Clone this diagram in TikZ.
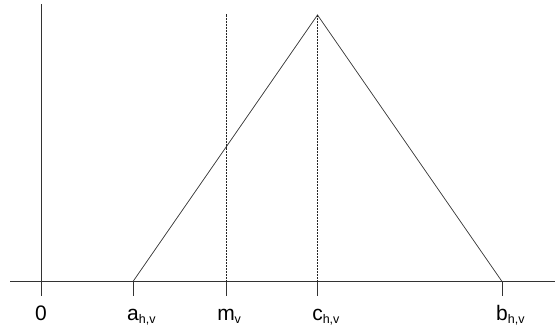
\documentclass[tikz,border=0pt]{standalone}
\usepackage{fontspec}
\setmainfont{Liberation Sans}
\newcommand{\lsub}[1]{\rlap{\raisebox{-3pt}{\fontsize{12.5}{14}\selectfont#1}}}

\begin{document}
\begin{tikzpicture}[x=1pt, y=-1pt, line width=0.7pt,
  axisline/.style={draw=black!80},
  guide/.style={draw=black!85, line width=0.9pt, dash pattern=on 2pt off 1pt},
  lbl/.style={anchor=base, inner sep=0pt, font=\fontsize{21}{25}\selectfont}]
  \useasboundingbox (0,0) rectangle (555,329);
  % axis
  \coordinate (xs) at (10,281.5);
  \coordinate (xe) at (555,281.5);
  \draw[axisline] (xs) -- (xe);
  \foreach \n/\x/\l in {o/41/0, a/133/{a\lsub{h,v}}, m/226/{m\lsub{v}},
                        c/317.5/{c\lsub{h,v}}, b/502/{b\lsub{h,v}}}{
    \coordinate (t\n) at (\x,281.5);
    \coordinate (d\n) at (\x,296);
    \draw[axisline] (t\n) -- (d\n);
    \node[lbl] (l\n) at (\x,320) {\l};
  }

  % triangle and guides
  \coordinate (ytop) at (41,4);
  \coordinate (peak) at (317.5,15);
  \coordinate (mtop) at (226,14);
  \draw[axisline] (to) -- (ytop);
  \draw[axisline] (ta) -- (peak) -- (tb);
  \draw[guide] (tm) -- (mtop);
  \draw[guide] (tc) -- (peak);
\end{tikzpicture}
\end{document}
